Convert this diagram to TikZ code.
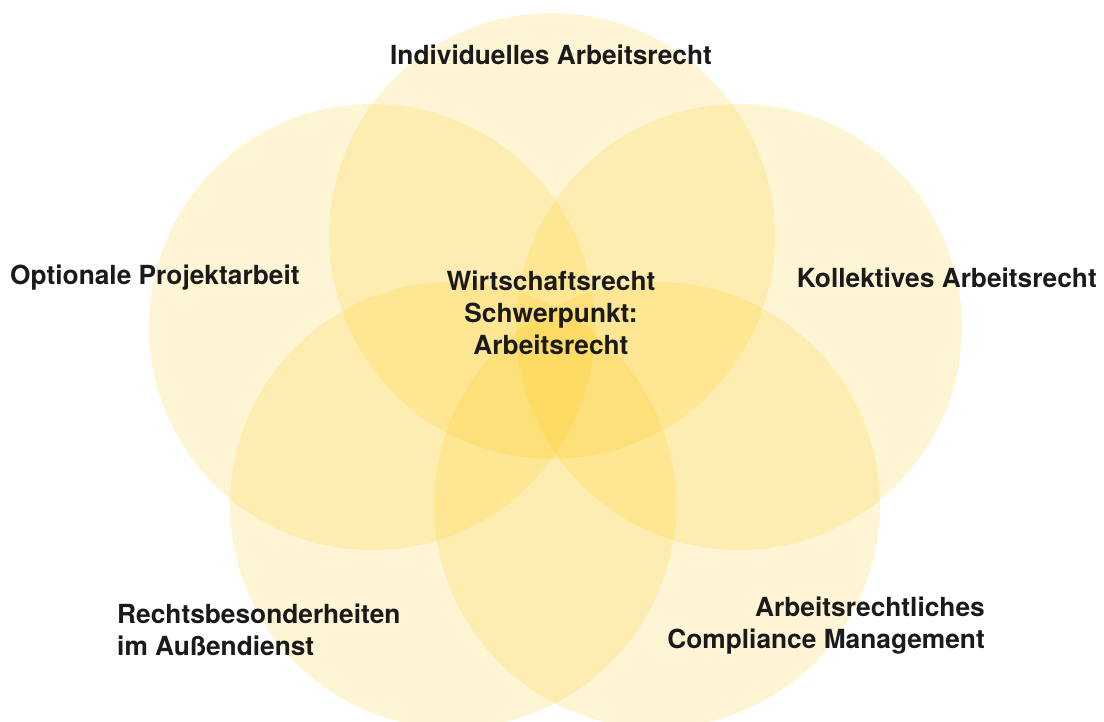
\documentclass[tikz,border=0pt]{standalone}
\usepackage{fontspec}
\setmainfont{TeX Gyre Heros}
\usepackage{tikz}
\usetikzlibrary{positioning}

\definecolor{sunyellow}{RGB}{252,196,0}
\definecolor{labelink}{RGB}{26,26,26}

\tikzset{
	ring/.style={circle, fill=sunyellow, fill opacity=0.17, minimum size=446pt, inner sep=0pt},
	topic/.style={font=\fontsize{26.3}{32}\selectfont\bfseries, text=labelink, inner sep=0pt}
}

\begin{document}
\begin{tikzpicture}[x=1pt,y=-1pt]
	\useasboundingbox (0,0) rectangle (1104,722);
	\clip (0,0) rectangle (1104,722);
%	\draw [help lines, step=50] (0,0) grid (1104,722);
	\node [ring] (ctop) at (552,236) {};
	\node [ring] (cleft) at (372,327) {};
	\node [ring] (cright) at (739,327) {};
	\node [ring] (cbotleft) at (453,505) {};
	\node [ring] (cbotright) at (657,505) {};

	\node [topic] (individuell) at (551,55) {Individuelles Arbeitsrecht};
	\node [topic, anchor=west] (projekt) at (10,278) {Optionale Projektarbeit};
	\node [topic, anchor=east] (kollektiv) at (1097,278) {Kollektives Arbeitsrecht};
	\node [topic, align=center] (kern) at (551,313) {Wirtschaftsrecht\\Schwerpunkt:\\Arbeitsrecht};
	\node [topic, align=left, anchor=west] (aussen) at (117,630) {Rechtsbesonderheiten\\im Außendienst};
	\node [topic, align=right, anchor=east] (compliance) at (985,626) {Arbeitsrechtliches\\Compliance Management};
\end{tikzpicture}
\end{document}
